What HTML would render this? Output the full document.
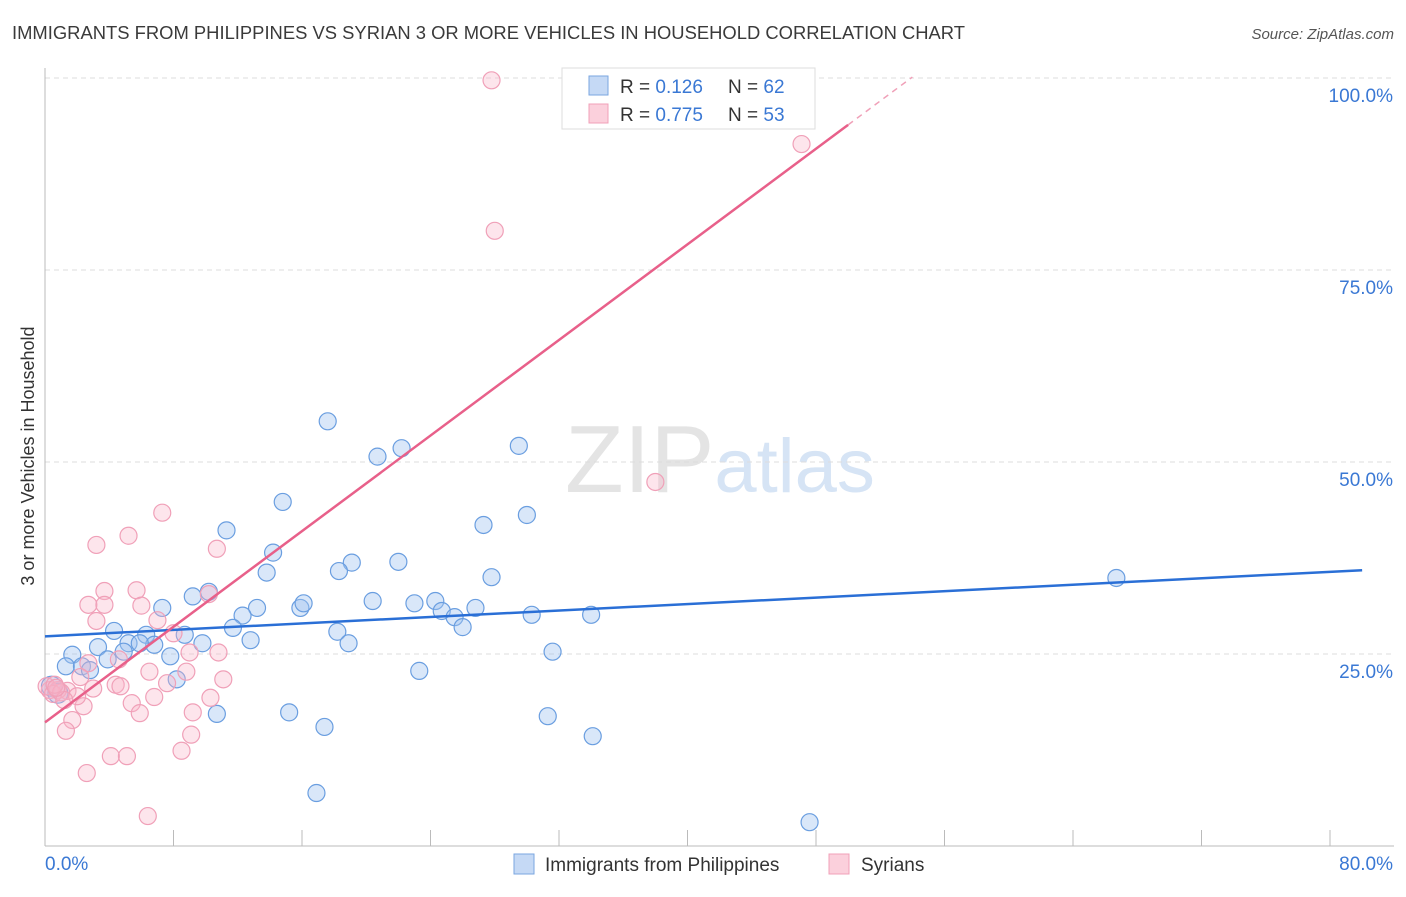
<!DOCTYPE html>
<html><head><meta charset="utf-8"><style>
body{margin:0;background:#fff;font-family:"Liberation Sans",sans-serif;}
svg text{font-family:"Liberation Sans",sans-serif;}
</style></head><body>
<svg id="chart" width="1406" height="892" xmlns="http://www.w3.org/2000/svg">
<text x="12" y="39" font-size="18" fill="#3a3a3a" textLength="953" lengthAdjust="spacingAndGlyphs">IMMIGRANTS FROM PHILIPPINES VS SYRIAN 3 OR MORE VEHICLES IN HOUSEHOLD CORRELATION CHART</text>
<text x="1394" y="39" font-size="15" fill="#555" text-anchor="end" font-style="italic">Source: ZipAtlas.com</text>
<text x="720" y="492" font-size="96" text-anchor="middle" fill="#e4e4e4" font-family="Liberation Serif,serif">ZIP<tspan fill="#d6e4f5" font-family="Liberation Sans,sans-serif" font-size="76">atlas</tspan></text>
<g id="grid"></g><g id="axes"></g><g id="pts"></g><g id="lines"></g>
<text transform="translate(34,456) rotate(-90)" font-size="18" fill="#333" text-anchor="middle">3 or more Vehicles in Household</text>
<g>
<rect x="562" y="68" width="253" height="61" fill="#fff" stroke="#ddd"/>
<rect x="589" y="76" width="19" height="19" fill="#c5d9f5" stroke="#7aa6e0"/>
<rect x="589" y="104" width="19" height="19" fill="#fbd0dc" stroke="#f0a0b8"/>
<text x="620" y="93" font-size="19" fill="#333">R = <tspan fill="#3a78d4">0.126</tspan><tspan x="728">N = </tspan><tspan fill="#3a78d4">62</tspan></text>
<text x="620" y="121" font-size="19" fill="#333">R = <tspan fill="#3a78d4">0.775</tspan><tspan x="728">N = </tspan><tspan fill="#3a78d4">53</tspan></text>
</g>
<g>
<rect x="514" y="854" width="20" height="20" fill="#c5d9f5" stroke="#7aa6e0"/>
<text x="545" y="871" font-size="19" fill="#333">Immigrants from Philippines</text>
<rect x="829" y="854" width="20" height="20" fill="#fbd0dc" stroke="#f0a0b8"/>
<text x="861" y="871" font-size="19" fill="#333">Syrians</text>
</g>
</svg>
<script>
const xTicks=[0,8,16,24,32,40,48,56,64,72,80];
const yTicks=[25,50,75,100];
const blueX=[17.6,20.7,22.2,29.5,14.8,11.3,30.0,27.3,14.2,19.1,22.0,13.8,18.3,27.8,66.7,10.2,9.2,7.3,13.2,15.9,16.1,20.4,23.0,24.3,24.7,25.5,26.8,26.0,30.3,34.0,12.3,11.7,4.3,6.3,8.7,18.2,18.9,12.8,9.8,5.2,6.8,3.3,5.9,4.9,31.6,1.7,7.8,3.9,1.3,2.3,2.8,23.3,8.2,0.4,0.8,15.2,10.7,31.3,17.4,34.1,16.9,47.6];
const blueY=[55.3,50.7,51.8,52.1,44.8,41.1,43.1,41.8,38.2,36.9,37.0,35.6,35.8,35.0,34.9,33.1,32.5,31.0,31.0,31.0,31.6,31.9,31.6,31.9,30.6,29.8,31.0,28.5,30.1,30.1,30.0,28.4,28.0,27.5,27.5,27.9,26.4,26.8,26.4,26.4,26.2,25.9,26.4,25.3,25.3,24.9,24.7,24.3,23.4,23.4,22.9,22.8,21.7,20.8,19.9,17.4,17.2,16.9,15.5,14.3,6.9,3.1];
const pinkX=[27.8,47.1,28.0,38.0,7.3,5.2,3.2,10.7,3.7,5.7,2.7,3.7,6.0,10.2,3.2,7.0,8.0,4.6,9.0,10.8,2.7,6.5,8.8,2.2,11.1,7.6,4.4,4.7,1.4,0.3,6.8,10.3,2.4,5.4,9.2,5.9,1.7,1.3,9.1,8.5,4.1,5.1,2.6,6.4,0.1,0.8,0.5,1.0,0.6,2.0,3.0,1.2,0.7];
const pinkY=[99.7,91.4,80.1,47.4,43.4,40.4,39.2,38.7,33.2,33.3,31.4,31.4,31.3,32.8,29.3,29.4,27.7,24.3,25.2,25.2,23.8,22.7,22.7,22.0,21.7,21.2,21.0,20.8,20.2,20.3,19.4,19.3,18.2,18.6,17.4,17.3,16.4,15.0,14.5,12.4,11.7,11.7,9.5,3.9,20.8,20.3,19.8,20.0,21.0,19.5,20.5,19.0,20.6];
const blueFit=[27.3,0.105];
const pinkFit=[16.1,1.556];
const X=v=>45+v*1285/80, Y=v=>846-v*7.68;
const NS="http://www.w3.org/2000/svg";
function mk(tag,attrs,parent){const e=document.createElementNS(NS,tag);for(const k in attrs)e.setAttribute(k,attrs[k]);document.getElementById(parent).appendChild(e);return e;}
yTicks.forEach(t=>{
 const l=mk('line',{x1:45,x2:1394,y1:Y(t),y2:Y(t),stroke:'#ddd','stroke-dasharray':'5,4'},'grid');
 
 
 const tx=mk('text',{x:1393,y:Y(t)+24,'font-size':19,fill:'#3a78d4','text-anchor':'end'},'axes');
 tx.textContent=t.toFixed(1)+'%';
 
 
});
const ax=mk('line',{x1:45,x2:1394,y1:846,y2:846,stroke:'#bbb'},'axes');


const ay=mk('line',{x1:45,x2:45,y1:68,y2:846,stroke:'#bbb'},'axes');


xTicks.forEach(t=>{
 const l=mk('line',{x1:X(t),x2:X(t),y1:830,y2:846,stroke:'#bbb'},'axes');
 
 
});
[[0,'start'],[80,'end']].forEach(([t,a])=>{
 const tx=mk('text',{x:a==='start'?45:1393,y:870,'font-size':19,fill:'#3a78d4','text-anchor':a},'axes');
 tx.textContent=t.toFixed(1)+'%';
 
 
});
blueX.forEach((v,i)=>{
 const c=mk('circle',{cx:X(v),cy:Y(blueY[i]),r:i>=53&&i<=54?10:8.5,fill:'rgba(160,195,240,0.4)',stroke:'#6a9ee0','stroke-width':1.2},'pts');
 
 
});
pinkX.forEach((v,i)=>{
 const c=mk('circle',{cx:X(v),cy:Y(pinkY[i]),r:8.5,fill:'rgba(248,180,200,0.35)',stroke:'#f0a0b8','stroke-width':1.2},'pts');
 
 
});
const bl=mk('line',{x1:X(0),y1:Y(blueFit[0]),x2:X(82),y2:Y(blueFit[0]+blueFit[1]*82),stroke:'#2a6fd6','stroke-width':2.5},'lines');


const pl=mk('line',{x1:X(0),y1:Y(pinkFit[0]),x2:X(50),y2:Y(pinkFit[0]+pinkFit[1]*50),stroke:'#e8608a','stroke-width':2.5},'lines');


const pd=mk('line',{x1:X(50),y1:Y(pinkFit[0]+pinkFit[1]*50),x2:X(54),y2:Y(pinkFit[0]+pinkFit[1]*54),stroke:'#f0a0b8','stroke-width':1.5,'stroke-dasharray':'6,5'},'lines');


</script>
</body></html>
